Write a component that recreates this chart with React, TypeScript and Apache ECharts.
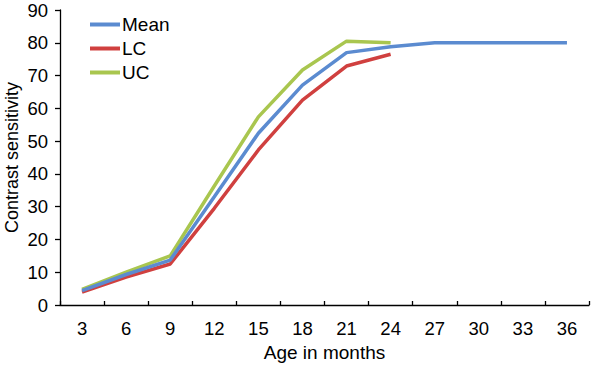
import React, { useEffect, useRef } from "react";
import * as echarts from "echarts";

const categories = ["3", "6", "9", "12", "15", "18", "21", "24", "27", "30", "33", "36"];
const meanValues = [4.4, 9.3, 13.7, 33, 52.4, 67.1, 77, 78.8, 80, 80, 80, 80];
const lcValues = [3.9, 8.5, 12.5, 29.5, 47.3, 62.5, 72.9, 76.5, null, null, null, null];
const ucValues = [4.8, 10, 15, 36.3, 57.4, 71.7, 80.5, 80, null, null, null, null];
const yTicks = { min: 0, max: 90, interval: 10 };

const FONT = "Liberation Sans, Arial, sans-serif";

export default function App() {
  const ref = useRef<HTMLDivElement>(null);
  useEffect(() => {
    const chart = echarts.init(ref.current!, null, { renderer: "svg" });
    const axisLine = { show: true, lineStyle: { color: "#000", width: 1.3 } };
    chart.setOption({
      animation: false,
      textStyle: { fontFamily: FONT },
      grid: { left: 60, right: 9, top: 10, bottom: 60, containLabel: false, outerBoundsMode: "none" },
      legend: {
        orient: "vertical",
        left: 85,
        top: 10,
        icon: "rect",
        itemWidth: 30,
        itemHeight: 4,
        itemGap: 5,
        textStyle: { fontFamily: FONT, fontSize: 19, color: "#000", padding: [0, 0, 0, -3] },
        data: ["Mean", "LC", "UC"],
      },
      xAxis: {
        type: "category",
        data: categories,
        boundaryGap: true,
        axisLine,
        axisTick: { show: true, inside: true, length: 4, alignWithLabel: false, lineStyle: { color: "#000", width: 1.3 } },
        axisLabel: { fontFamily: FONT, fontSize: 18.5, color: "#000", margin: 14 },
        name: "Age in months",
        nameLocation: "middle",
        nameGap: 38,
        nameMoveOverlap: false,
        nameTextStyle: { fontFamily: FONT, fontSize: 19, color: "#000" },
        splitLine: { show: false },
      },
      yAxis: {
        type: "value",
        min: yTicks.min,
        max: yTicks.max,
        interval: yTicks.interval,
        axisLine,
        axisTick: { show: true, inside: false, length: 5, lineStyle: { color: "#000", width: 1.3 } },
        axisLabel: { fontFamily: FONT, fontSize: 18.5, color: "#000", margin: 12 },
        name: "Contrast sensitivity",
        nameLocation: "middle",
        nameGap: 39,
        nameMoveOverlap: false,
        nameTextStyle: { fontFamily: FONT, fontSize: 18, color: "#000" },
        splitLine: { show: false },
      },
      series: [
        {
          name: "Mean",
          type: "line",
          data: meanValues,
          symbol: "none",
          itemStyle: { color: "#5B8BD0" },
          lineStyle: { color: "#5B8BD0", width: 3.5 },
          z: 3,
        },
        {
          name: "LC",
          type: "line",
          data: lcValues,
          symbol: "none",
          itemStyle: { color: "#D0403F" },
          lineStyle: { color: "#D0403F", width: 3.5 },
          z: 2,
        },
        {
          name: "UC",
          type: "line",
          data: ucValues,
          symbol: "none",
          itemStyle: { color: "#A9C64F" },
          lineStyle: { color: "#A9C64F", width: 3.5 },
          z: 1,
        },
      ],
    });
    return () => chart.dispose();
  }, []);
  return (
    <div
      ref={ref}
      style={{ position: "fixed", left: 0, top: 0, width: 598, height: 365, background: "#fff" }}
    />
  );
}
